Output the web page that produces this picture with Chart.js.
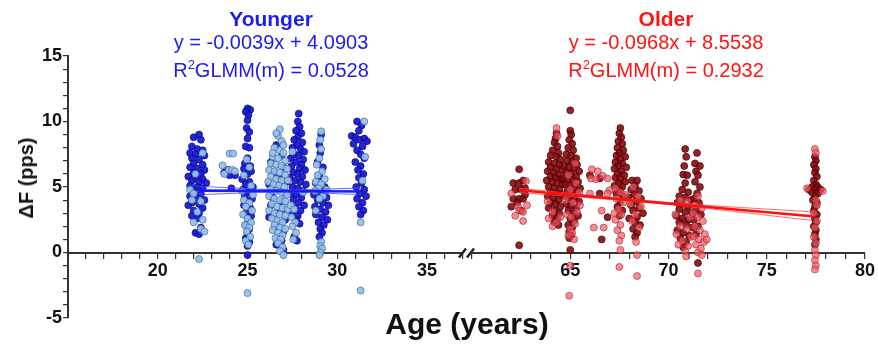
<!DOCTYPE html>
<html>
<head>
<meta charset="utf-8">
<script src="https://cdn.jsdelivr.net/npm/chart.js@4.4.1/dist/chart.umd.min.js"></script>
<style>
  body { margin: 0; background: #fff; }
  #wrap { position: relative; width: 878px; height: 345px; font-family: 'Liberation Sans', Arial, sans-serif; }
  .box { position: absolute; top: 0; height: 345px; }
  .txt { position: absolute; white-space: nowrap; transform: translateX(-50%); }
  .sup { font-size: 13px; line-height: 0; vertical-align: 8px; }
</style>
</head>
<body>
<div id="wrap">
  <div class="box" style="left:0;width:480px"><canvas id="young"></canvas></div>
  <div class="box" style="left:466px;width:412px"><canvas id="old"></canvas></div>

  <div class="txt" style="left:271px;top:8px;font-size:21px;line-height:21px;font-weight:bold;color:#1c1cf0">Younger</div>
  <div class="txt" style="left:271px;top:32px;font-size:20px;line-height:20px;color:#1c1cf0">y = -0.0039x + 4.0903</div>
  <div class="txt" style="left:271px;top:60px;font-size:20px;line-height:20px;color:#1c1cf0">R<span class="sup">2</span>GLMM(m) = 0.0528</div>

  <div class="txt" style="left:666px;top:8px;font-size:21px;line-height:21px;font-weight:bold;color:#ff1414">Older</div>
  <div class="txt" style="left:666px;top:32px;font-size:20px;line-height:20px;color:#ff1414">y = -0.0968x + 8.5538</div>
  <div class="txt" style="left:666px;top:60px;font-size:20px;line-height:20px;color:#ff1414">R<span class="sup">2</span>GLMM(m) = 0.2932</div>

  <div class="txt" style="left:467px;top:309px;font-size:30px;line-height:30px;font-weight:bold;color:#111">Age (years)</div>
  <div style="position:absolute;left:26px;top:178px;transform:translate(-50%,-50%) rotate(-90deg);white-space:nowrap;font-size:20px;line-height:20px;font-weight:bold;color:#111">ΔF (pps)</div>
</div>

<script>
// tick labels
const yLabels = [-5, 0, 5, 10, 15];
const youngAgeLabels = [20, 25, 30, 35];
const oldAgeLabels = [65, 70, 75, 80];

// younger group, [age, deltaF]
const youngDark = [
  [22.3,9.0],[22.0,8.8],[22.4,8.6],[21.9,8.1],[22.2,7.9],[22.5,7.8],[21.8,7.6],[22.1,7.5],[22.6,7.4],[21.9,7.2],
  [22.3,7.1],[22.0,6.8],[22.5,6.7],[21.8,6.5],[22.2,6.4],[22.6,6.3],[22.0,6.1],[22.4,6.0],[21.7,5.8],[22.1,5.7],
  [22.5,5.6],[21.9,5.5],[22.3,5.4],[22.7,5.3],[21.8,5.1],[22.2,5.0],[22.5,4.9],[22.0,4.7],[22.4,4.5],[21.8,4.3],
  [22.1,4.2],[22.6,4.0],[21.9,3.8],[22.3,3.7],[21.7,3.6],[22.5,3.4],[22.0,3.2],[22.3,3.0],[21.9,2.8],[22.2,2.6],
  [22.4,1.9],[22.1,1.5],[22.3,1.4],
  [23.9,6.3],[24.0,5.9],[24.3,5.9],[23.7,6.1],[24.1,4.9],
  [25.0,11.0],[25.15,10.9],[24.9,10.75],[25.05,10.5],[25.0,10.1],[24.95,9.5],[25.1,9.2],[25.0,8.7],[24.9,8.1],[25.1,8.0],
  [25.0,7.2],[24.85,6.8],[25.15,6.6],[24.8,6.4],[25.2,6.2],[25.0,6.0],[24.7,5.6],[25.1,5.4],[24.9,5.2],[25.3,5.0],
  [24.75,4.8],[25.05,4.6],[24.85,4.3],[25.25,4.1],[25.0,3.9],[24.8,3.6],[25.15,3.4],[24.95,3.1],[25.2,2.8],[25.05,2.5],
  [24.9,2.1],[25.1,1.8],[25.0,1.5],[24.9,1.1],[25.1,0.8],[25.0,0.5],[25.0,-0.2],
  [26.6,8.2],[26.9,7.4],[26.3,6.9],[27.0,6.5],[26.5,6.1],[26.8,5.7],[27.2,5.4],[26.2,5.2],[26.7,4.9],[27.1,4.5],
  [26.4,4.2],[26.9,3.9],[26.3,3.6],[27.0,3.3],[26.6,3.0],[26.2,2.7],[27.1,2.5],[26.8,2.2],[26.5,1.9],[27.0,1.6],
  [26.7,1.2],[26.9,0.9],[26.6,0.6],[27.0,0.2],
  [27.85,10.6],[27.8,10.0],[27.9,9.6],[27.7,9.3],[28.0,9.1],[27.8,8.8],[27.6,8.6],[28.05,8.4],[27.75,8.2],[27.5,8.0],
  [27.95,7.9],[28.15,7.7],[27.6,7.5],[27.85,7.4],[27.4,7.2],[28.1,7.1],[27.7,6.9],[28.0,6.7],[27.45,6.6],[27.9,6.4],
  [28.2,6.3],[27.55,6.1],[27.8,6.0],[28.05,5.8],[27.35,5.7],[27.65,5.5],[27.95,5.4],[28.25,5.2],[27.5,5.0],[27.8,4.9],
  [28.1,4.7],[27.4,4.5],[27.7,4.4],[28.0,4.2],[27.55,4.0],[27.85,3.8],[28.15,3.6],[27.65,3.4],[27.95,3.2],[27.5,3.0],
  [27.8,2.8],[27.7,2.5],[27.9,2.2],[27.6,1.2],[27.75,0.9],
  [29.1,9.0],[29.0,8.2],[29.05,7.6],[28.9,6.9],[29.2,6.5],[29.0,5.8],[28.8,5.3],[29.3,5.0],[29.1,4.6],[28.7,4.4],
  [29.4,4.2],[28.9,4.0],[29.2,3.8],[29.5,3.6],[28.75,3.5],[29.05,3.3],[29.35,3.1],[28.8,2.9],[29.15,2.7],[29.45,2.5],
  [28.95,2.3],[29.25,2.1],[29.05,1.8],[29.15,1.5],[29.0,1.2],
  [31.1,10.0],[31.35,9.7],[31.2,9.3],[30.8,8.9],[31.0,8.8],[31.25,8.6],[31.5,8.7],[31.65,8.5],[30.9,8.3],[31.4,8.1],
  [31.1,7.8],[31.3,7.5],[31.5,7.2],[31.0,6.9],[31.3,6.6],[31.15,6.3],[31.45,6.0],[31.2,5.7],[31.35,5.3],[31.05,5.0],
  [31.5,4.8],[31.25,4.5],[31.6,4.3],[31.1,4.1],[31.4,3.8],[31.2,3.5],[31.45,3.2],[31.3,2.9]
];
const youngLight = [
  [21.8,4.8],[22.0,4.5],[22.4,3.9],[22.2,3.1],[22.5,2.5],[22.0,2.3],[22.4,1.8],[22.6,1.6],[22.3,-0.5],[22.5,7.6],
  [22.1,6.0],[21.9,4.0],
  [24.0,7.55],[24.2,7.55],[23.6,6.65],[23.95,6.3],[24.15,6.3],[23.7,6.0],[24.3,6.2],
  [24.95,7.1],[25.1,6.5],[24.8,5.9],[25.2,5.1],[24.7,4.7],[25.3,4.4],[24.8,4.0],[25.1,3.8],[24.9,3.5],[25.25,3.2],
  [24.75,2.9],[25.0,2.6],[25.2,2.3],[24.85,2.1],[25.1,1.9],[24.95,1.6],[25.15,1.2],[24.9,0.9],[25.05,0.6],[25.0,-3.1],
  [26.8,9.4],[26.7,8.9],[26.9,8.5],[26.5,8.0],[26.8,7.8],[27.0,7.6],[26.4,7.3],[26.7,7.2],[27.1,7.0],[26.3,6.8],
  [26.6,6.7],[26.9,6.6],[27.2,6.4],[26.2,6.3],[26.5,6.2],[26.8,6.1],[27.1,5.9],[26.3,5.8],[26.6,5.6],[26.9,5.5],
  [27.25,5.5],[26.15,5.4],[26.45,5.2],[26.75,5.1],[27.05,5.0],[26.3,4.8],[26.6,4.7],[26.9,4.6],[27.2,4.4],[26.2,4.3],
  [26.5,4.1],[26.8,4.0],[27.1,3.9],[26.35,3.7],[26.65,3.5],[26.95,3.4],[27.25,3.3],[26.2,3.2],[26.5,3.0],[26.8,2.9],
  [27.1,2.8],[26.35,2.6],[26.65,2.4],[26.95,2.3],[26.5,2.1],[26.8,1.9],[27.1,1.8],[26.4,1.7],[26.7,1.5],[26.95,1.3],
  [26.55,1.1],[26.85,1.0],[26.7,0.7],[26.95,0.4],[26.8,0.1],[27.0,-0.2],[26.6,9.1],[26.4,7.6],[27.0,8.2],
  [27.4,3.6],[27.6,3.3],[27.45,2.7],[27.65,2.3],[27.5,2.0],[27.7,1.5],[27.55,1.0],[28.1,4.6],[27.5,7.7],
  [29.1,9.25],[29.05,8.6],[29.1,7.9],[29.0,7.2],[28.85,6.7],[29.15,6.2],[28.9,5.9],[29.3,5.6],[28.8,5.4],[29.1,5.2],
  [28.95,4.9],[29.4,4.8],[28.75,4.7],[29.2,4.3],[29.0,4.1],[29.1,0.8],[29.05,0.5],[29.15,0.3],[29.05,0.0],[29.0,-0.2],
  [28.8,3.2],
  [31.5,10.0],[31.55,7.3],[31.4,5.5],[31.3,2.3],[31.3,-2.9]
];
const youngFit = [[22.3,4.72],[31.3,4.66]];
const youngUpper = [[22.3,5.05],[26.8,4.8],[31.3,4.92]];
const youngLower = [[22.3,4.42],[26.8,4.6],[31.3,4.43]];

// older group, [age, deltaF]
const oldDark = [
  [62.4,6.35],[62.1,5.3],[62.4,5.3],[62.6,5.5],[62.2,4.8],[62.5,4.8],[62.7,4.9],[62.1,4.1],[62.4,4.1],[62.6,4.1],
  [62.3,3.8],[62.7,4.4],[62.0,3.5],[62.5,3.2],[62.4,0.55],
  [64.3,9.1],[64.25,8.7],[64.2,8.4],[64.35,8.1],[64.1,7.8],[64.4,7.6],[64.0,7.4],[64.3,7.3],[64.5,7.1],[63.9,6.9],
  [64.2,6.8],[64.45,6.7],[64.0,6.5],[64.3,6.4],[64.6,6.3],[63.85,6.2],[64.15,6.1],[64.4,5.9],[64.0,5.8],[64.25,5.7],
  [64.55,5.6],[63.8,5.5],[64.1,5.4],[64.35,5.3],[64.6,5.2],[63.9,5.0],[64.2,4.9],[64.45,4.8],[64.0,4.6],[64.3,4.5],
  [64.55,4.4],[63.85,4.3],[64.15,4.2],[64.4,4.0],[64.0,3.8],[64.25,3.7],[64.5,3.5],[63.9,3.4],[64.2,3.2],[64.45,3.0],
  [64.1,2.8],[64.35,2.6],[64.2,2.3],[64.4,2.1],
  [65.0,10.85],[65.0,9.3],[65.05,9.0],[64.95,8.6],[65.1,8.3],[64.9,8.0],[65.15,7.8],[64.8,7.5],[65.05,7.4],[65.3,7.2],
  [64.85,7.0],[65.1,6.9],[65.35,6.7],[64.7,6.6],[64.95,6.5],[65.2,6.4],[65.45,6.2],[64.8,6.1],[65.05,6.0],[65.3,5.8],
  [64.65,5.7],[64.9,5.6],[65.15,5.5],[65.4,5.4],[64.75,5.2],[65.0,5.1],[65.25,5.0],[65.5,4.9],[64.85,4.7],[65.1,4.6],
  [65.35,4.5],[64.7,4.3],[64.95,4.2],[65.2,4.1],[65.45,3.9],[64.8,3.7],[65.05,3.6],[65.3,3.4],[64.9,3.2],[65.15,3.0],
  [65.4,2.8],[65.0,2.6],[65.2,2.4],[64.9,2.1],[65.1,1.9],[64.95,1.6],[65.05,1.3],[64.95,1.1],[65.0,0.2],
  [66.0,5.9],[66.5,5.65],[66.5,4.5],[66.9,2.7],[66.6,1.0],
  [67.55,9.5],[67.5,9.1],[67.6,8.8],[67.45,8.5],[67.65,8.3],[67.4,8.0],[67.7,7.8],[67.5,7.6],[67.35,7.4],[67.8,7.3],
  [67.55,7.1],[67.3,6.9],[67.65,6.8],[67.45,6.6],[67.85,6.5],[67.25,6.4],[67.6,6.2],[67.4,6.0],[67.75,5.9],[67.3,5.7],
  [67.55,5.6],[67.8,5.4],[67.45,5.3],[67.25,5.1],[67.65,5.0],[67.5,4.8],[67.35,4.5],[67.7,4.3],[67.55,3.9],[67.4,3.5],
  [67.65,3.2],[67.5,2.8],
  [68.15,5.5],[68.4,5.5],[68.3,5.1],[68.1,4.8],[68.5,4.7],[68.25,4.4],[67.95,4.2],[68.6,4.1],[68.35,3.9],[68.1,3.6],
  [68.5,3.4],[68.2,3.2],[68.7,3.0],[68.4,2.7],[68.0,2.6],[68.3,2.3],[68.55,2.1],[68.2,1.8],[68.4,1.5],[68.3,1.2],
  [70.85,7.9],[70.9,7.3],[70.8,6.6],[70.75,5.95],[70.95,5.9],[70.85,5.3],[70.7,4.8],[71.0,4.6],[70.55,4.3],[70.85,4.2],
  [71.15,4.0],[70.45,3.8],[70.7,3.7],[71.0,3.5],[70.55,3.3],[70.85,3.1],[71.2,3.0],[70.4,2.8],[70.7,2.6],[71.0,2.5],
  [70.55,2.3],[70.9,2.1],[71.2,1.9],[70.45,1.7],[70.75,1.5],[71.05,1.3],[70.6,1.1],[70.9,0.8],[70.75,0.4],
  [71.45,7.6],[71.35,6.8],[71.6,6.6],[71.4,6.2],[71.5,5.9],[71.35,5.4],[71.6,5.0],[71.45,4.5],[71.3,4.1],[71.55,3.8],
  [71.4,3.3],[71.65,2.9],[71.3,2.5],[71.5,2.0],[71.4,1.4],[71.5,-0.8],
  [77.45,7.3],[77.5,7.0],[77.4,6.7],[77.5,6.4],[77.45,6.1],[77.55,5.8],[77.4,5.5],[77.5,5.2],[77.3,5.0],[77.6,5.0],
  [77.15,4.8],[77.45,4.8],[77.75,4.8],[77.3,4.6],[77.6,4.5],[77.45,4.3],[77.35,4.0],[77.55,3.8],[77.45,3.5],[77.4,3.2],
  [77.55,2.9],[77.45,2.6],[77.5,2.3],[77.4,2.0],[77.5,1.7],[77.45,1.4],[77.5,1.0],[77.45,0.6]
];
const oldLight = [
  [62.75,5.45],[62.35,3.5],[62.4,3.2],[62.6,3.1],[62.2,2.8],[62.6,2.4],[62.0,4.5],[62.8,3.6],
  [64.3,9.5],[64.1,3.1],[63.9,2.6],[64.3,2.3],[64.1,2.0],[64.5,2.7],[63.85,3.9],[64.35,8.9],
  [65.25,6.8],[64.9,5.9],[65.3,5.3],[65.0,4.8],[65.45,4.6],[64.75,4.0],[65.15,3.8],[65.35,3.1],[64.85,2.9],[65.05,2.7],
  [65.25,2.2],[65.0,1.8],[65.1,1.5],[64.9,1.3],[65.2,1.0],[65.0,-1.0],[64.95,-3.3],[65.5,3.6],
  [66.1,6.35],[66.4,6.2],[66.65,5.85],[66.3,5.6],[66.05,5.65],[66.9,5.65],[67.0,4.75],[66.0,4.5],[66.9,4.5],[66.6,3.2],
  [66.2,1.9],[66.7,1.9],
  [67.3,4.9],[67.55,4.6],[67.8,4.4],[67.35,4.1],[67.7,3.8],[67.45,3.3],[67.6,2.9],[67.3,2.5],[67.55,2.1],[67.4,1.7],
  [67.6,1.3],[67.5,0.9],[67.55,0.2],[67.5,-1.1],[67.25,3.0],
  [68.2,5.0],[68.45,4.3],[68.05,3.7],[68.6,3.5],[68.3,2.9],[68.15,2.4],[68.5,1.9],[68.35,0.8],[68.4,-0.2],[68.4,-1.8],
  [70.6,4.0],[70.95,3.9],[70.35,2.9],[71.1,2.7],[70.6,2.0],[70.95,1.8],[70.4,1.4],[71.15,1.2],[70.7,0.9],[71.0,0.5],
  [70.85,0.1],[70.9,-0.3],[70.5,0.6],
  [71.5,4.3],[71.35,3.6],[71.7,3.4],[71.25,3.0],[71.5,2.7],[71.75,2.4],[71.35,2.0],[71.6,1.7],[71.85,1.4],[71.3,1.2],
  [71.55,1.0],[71.8,0.8],[71.4,0.6],[71.65,0.3],[71.5,0.0],[71.7,-0.2],[71.5,-1.6],[71.95,1.0],
  [77.45,7.9],[77.5,7.6],[77.05,4.9],[77.85,4.7],[77.5,4.0],[77.4,3.0],[77.55,2.4],[77.45,1.9],[77.4,1.2],[77.5,0.7],
  [77.45,0.2],[77.5,-0.2],[77.45,-0.6],[77.5,-1.0],[77.45,-1.3],[77.55,3.6]
];
const oldFit = [[62.4,4.75],[77.3,2.77]];
const oldUpper = [[62.4,4.9],[70.0,3.82],[77.3,3.1]];
const oldLower = [[62.4,4.58],[70.0,3.66],[77.3,2.45]];

Chart.defaults.font.family = "'Liberation Sans', Arial, sans-serif";
Chart.defaults.color = '#111';

const pts = arr => arr.map(p => ({ x: p[0], y: p[1] }));

function dots(data, fill, edge, order) {
  return { data: pts(data), backgroundColor: fill, borderColor: edge, borderWidth: 0.8,
           pointRadius: 3.5, order: order };
}
function line(data, color, width, order) {
  return { data: pts(data), showLine: true, borderColor: color, borderWidth: width,
           pointRadius: 0, tension: 0.4, order: order };
}

const tickFont = { size: 18, weight: 'bold' };

function xAxis(min, max, labels) {
  return {
    type: 'linear', min: min, max: max, position: { y: 0 },
    border: { display: true, color: '#333', width: 2 },
    grid: { drawOnChartArea: false, drawTicks: true, tickLength: 5, color: '#333', lineWidth: 1.2 },
    ticks: { stepSize: 1, autoSkip: false, maxRotation: 0, padding: 3, font: tickFont,
             callback: v => labels.includes(v) ? String(v) : '' }
  };
}

// axis break marks "//" at the end of the left panel
const breakMarks = {
  id: 'breakMarks',
  afterDraw(chart) {
    const c = chart.ctx;
    const x = chart.scales.x.right;
    const y = chart.scales.y.getPixelForValue(0);
    c.save();
    c.strokeStyle = '#222';
    c.lineWidth = 2.5;
    c.beginPath();
    c.moveTo(x - 4, y + 5); c.lineTo(x + 3, y - 4);
    c.moveTo(x + 4, y + 5); c.lineTo(x + 11, y - 4);
    c.stroke();
    c.restore();
  }
};

new Chart(document.getElementById('young'), {
  type: 'scatter',
  data: {
    datasets: [
      line(youngFit, '#1a1aff', 2.6, 0),
      line(youngUpper, 'rgba(70,70,255,0.8)', 1, 0),
      line(youngLower, 'rgba(70,70,255,0.8)', 1, 0),
      dots(youngLight, 'rgba(150,195,235,0.95)', 'rgba(60,90,150,0.8)', 1),
      dots(youngDark, 'rgba(25,25,215,0.95)', 'rgba(10,10,110,0.8)', 2)
    ]
  },
  options: {
    responsive: true, maintainAspectRatio: false, animation: false,
    layout: { padding: { top: 56, bottom: 27, left: 0, right: 17 } },
    plugins: { legend: { display: false }, tooltip: { enabled: false } },
    scales: {
      x: xAxis(15, 37, youngAgeLabels),
      y: {
        type: 'linear', min: -5, max: 15, position: 'left',
        afterFit: s => { s.width = 68; },
        border: { display: true, color: '#333', width: 2 },
        grid: { drawOnChartArea: false, drawTicks: true, tickLength: 5, color: '#333', lineWidth: 1.2 },
        ticks: { stepSize: 1, autoSkip: false, padding: 1, font: tickFont,
                 callback: v => yLabels.includes(v) ? String(v) : '' }
      }
    }
  },
  plugins: [breakMarks]
});

new Chart(document.getElementById('old'), {
  type: 'scatter',
  data: {
    datasets: [
      line(oldFit, '#ff1010', 2.6, 0),
      line(oldUpper, 'rgba(255,70,70,0.8)', 1, 0),
      line(oldLower, 'rgba(255,70,70,0.8)', 1, 0),
      dots(oldLight, 'rgba(245,90,100,0.7)', 'rgba(150,30,40,0.7)', 1),
      dots(oldDark, 'rgba(135,10,15,0.9)', 'rgba(60,0,0,0.8)', 2)
    ]
  },
  options: {
    responsive: true, maintainAspectRatio: false, animation: false,
    layout: { padding: { top: 56, bottom: 27, left: 6, right: 12 } },
    plugins: { legend: { display: false }, tooltip: { enabled: false } },
    scales: {
      x: xAxis(60, 80, oldAgeLabels),
      y: { type: 'linear', min: -5, max: 15, display: false }
    }
  }
});
</script>
</body>
</html>
